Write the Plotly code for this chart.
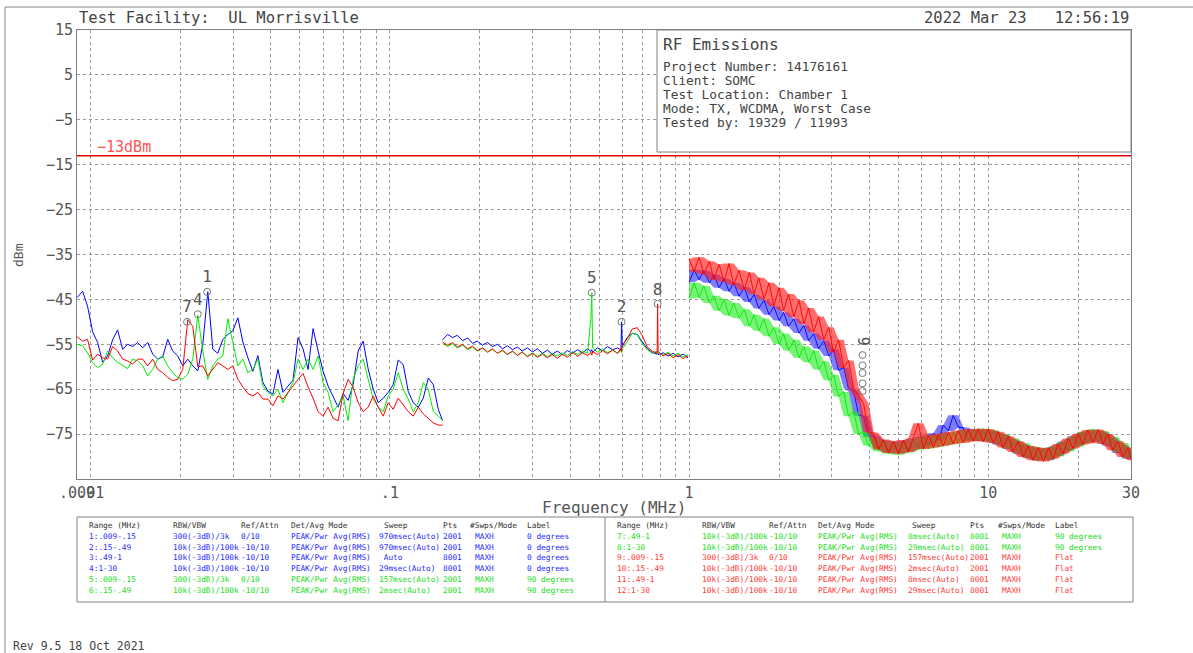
import math
import plotly.graph_objects as go

# ---------------- data ----------------
seg1_freq = [0.009, 0.00940, 0.00976, 0.01015, 0.01055, 0.01096, 0.01139, 0.01184, 0.01230, 0.01279,
             0.01329, 0.01381, 0.01436, 0.01492, 0.01551, 0.01612, 0.01675, 0.01741, 0.01809, 0.01880,
             0.01954, 0.02031, 0.02111, 0.02194, 0.02280, 0.02370, 0.02463, 0.02560, 0.02660, 0.02765,
             0.02873, 0.02986, 0.03104, 0.03226, 0.03353, 0.03484, 0.03621, 0.03764, 0.03911, 0.04065,
             0.04225, 0.04394, 0.04567, 0.04746, 0.04933, 0.05127, 0.05328, 0.05538, 0.05755, 0.05981,
             0.06217, 0.06461, 0.06715, 0.06979, 0.07253, 0.07538, 0.07834, 0.08142, 0.08462, 0.08795,
             0.09141, 0.09500, 0.09873, 0.1026, 0.1066, 0.1108, 0.1152, 0.1197, 0.1244, 0.1293,
             0.1344, 0.1397, 0.1452, 0.1500]
blue1 = [-44.6, -43.2, -46.5, -52.2, -54.6, -59.0, -57.6, -54.0, -51.8, -56.1,
         -55.0, -55.5, -54.6, -55.8, -54.6, -57.2, -58.3, -57.8, -53.9, -56.5,
         -57.6, -59.8, -58.3, -59.8, -60.9, -55.0, -43.3, -56.1, -57.0, -53.9,
         -52.8, -52.0, -49.1, -54.5, -58.0, -61.0, -57.5, -63.5, -65.4, -66.1,
         -60.6, -65.7, -64.3, -63.0, -53.5, -56.0, -60.6, -51.5, -56.5, -61.0,
         -64.3, -66.5, -69.0, -66.0, -67.5, -64.0, -56.5, -54.3, -60.5, -65.0,
         -68.0, -67.0, -65.7, -64.0, -58.5, -59.5, -65.5, -68.0, -69.0, -67.0,
         -62.5, -64.0, -69.5, -72.0]
green1 = [-55.0, -55.3, -56.9, -59.1, -60.2, -59.5, -56.5, -58.0, -59.0, -59.8,
          -60.4, -58.3, -58.7, -59.8, -62.0, -60.6, -58.3, -57.6, -59.8, -61.3,
          -62.4, -62.8, -61.7, -58.3, -48.5, -56.5, -62.8, -59.8, -58.3, -57.6,
          -49.3, -54.6, -59.8, -58.3, -61.3, -60.6, -58.3, -64.3, -65.7, -66.5,
          -65.0, -68.0, -65.7, -63.5, -58.3, -60.6, -58.3, -60.6, -57.6, -63.5,
          -65.7, -70.0, -68.5, -66.5, -72.0, -62.8, -59.8, -58.3, -62.8, -67.2,
          -69.0, -70.0, -66.5, -65.0, -61.3, -65.0, -67.2, -70.0, -68.0, -63.5,
          -65.0, -70.0, -71.0, -72.0]
red1 = [-53.3, -54.3, -53.9, -58.5, -57.2, -58.0, -58.3, -55.5, -56.5, -58.3,
        -58.7, -59.4, -58.3, -58.3, -59.8, -58.3, -60.6, -61.3, -62.4, -63.1,
        -62.8, -60.6, -49.5, -51.0, -60.0, -59.8, -62.0, -60.6, -59.1, -59.8,
        -60.6, -59.8, -62.8, -64.5, -66.0, -66.5, -65.7, -67.2, -67.2, -68.7,
        -66.5, -67.2, -65.7, -64.3, -62.8, -61.5, -64.5, -67.0, -70.0, -71.0,
        -69.0, -71.5, -72.0, -66.0, -62.8, -64.5, -68.0, -70.0, -69.0, -66.5,
        -69.0, -71.0, -68.0, -69.5, -67.0, -68.5, -70.0, -71.0, -69.0, -70.5,
        -71.5, -72.5, -73.0, -73.0]

seg2_freq = [0.150, 0.156, 0.162, 0.168, 0.175, 0.182, 0.189, 0.196, 0.204, 0.212,
             0.220, 0.229, 0.238, 0.247, 0.257, 0.267, 0.277, 0.288, 0.300, 0.311,
             0.324, 0.336, 0.349, 0.363, 0.377, 0.392, 0.408, 0.424, 0.440, 0.458,
             0.470, 0.473, 0.476, 0.494, 0.514, 0.534, 0.555, 0.577, 0.592, 0.595,
             0.598, 0.621, 0.646, 0.671, 0.697, 0.725, 0.753, 0.782, 0.785, 0.788,
             0.819, 0.851, 0.885, 0.919, 0.955, 0.993]
blue2 = [-54.0, -52.8, -53.5, -53.0, -54.2, -53.6, -54.8, -54.3, -55.2, -54.6,
         -55.5, -55.0, -56.0, -55.3, -56.2, -55.6, -56.5, -55.8, -56.7, -56.0,
         -57.0, -56.3, -57.2, -56.5, -57.3, -56.4, -57.0, -56.2, -56.9, -56.0,
         -56.6, -56.2, -56.8, -55.8, -56.4, -55.5, -56.2, -55.8, -56.3, -50.0,
         -55.5, -53.5, -52.6, -52.8, -54.4, -56.0, -56.8, -57.2, -56.6, -57.3,
         -56.9, -57.6, -57.0, -57.8, -57.2, -58.0]
green2 = [-54.8, -55.5, -54.9, -55.8, -55.2, -56.2, -55.6, -56.5, -55.9, -56.8,
          -56.1, -57.0, -56.4, -57.2, -56.6, -57.4, -56.8, -57.6, -56.9, -57.7,
          -57.0, -57.8, -57.1, -57.6, -56.9, -57.5, -56.6, -57.3, -56.5, -57.0,
          -49.0, -43.5, -55.8, -56.8, -56.0, -56.9, -56.2, -57.0, -56.4, -56.9,
          -56.0, -54.5, -52.5, -52.9, -54.8, -56.2, -57.0, -56.5, -57.2, -56.7,
          -57.4, -56.8, -57.6, -57.0, -57.8, -57.3]
red2 = [-54.5, -55.2, -54.6, -55.6, -55.0, -56.0, -55.4, -56.4, -55.8, -56.7,
        -56.0, -57.0, -56.3, -57.3, -56.5, -57.5, -56.7, -57.8, -57.0, -57.9,
        -57.2, -58.0, -57.3, -58.1, -57.2, -57.9, -56.8, -57.7, -56.9, -57.5,
        -56.8, -57.4, -56.6, -57.3, -56.4, -57.1, -56.3, -57.0, -55.9, -56.6,
        -55.2, -53.8, -51.6, -51.3, -53.0, -55.6, -56.5, -57.0, -46.0, -56.6,
        -57.6, -57.0, -58.0, -57.3, -58.2, -57.6]

seg3_freq = [1.00, 1.04, 1.08, 1.12, 1.17, 1.21, 1.26, 1.31, 1.36, 1.41,
             1.47, 1.53, 1.59, 1.65, 1.71, 1.78, 1.85, 1.92, 2.00, 2.07,
             2.15, 2.24, 2.33, 2.42, 2.51, 2.61, 2.71, 2.82, 2.93, 3.04,
             3.16, 3.29, 3.41, 3.55, 3.69, 3.83, 3.98, 4.14, 4.30, 4.47,
             4.64, 4.82, 5.01, 5.21, 5.41, 5.62, 5.84, 6.07, 6.31, 6.56,
             6.81, 7.08, 7.36, 7.64, 7.94, 8.25, 8.58, 8.91, 9.26, 9.62,
             10.0, 10.4, 10.8, 11.2, 11.7, 12.1, 12.6, 13.1, 13.6, 14.1,
             14.7, 15.3, 15.9, 16.5, 17.1, 17.8, 18.5, 19.2, 20.0, 20.7,
             21.5, 22.4, 23.3, 24.2, 25.1, 26.1, 27.1, 28.2, 29.3, 30.0]
blue3 = [-41.2, -38.4, -40.6, -38.6, -41.3, -39.5, -42.4, -40.4, -43.2, -41.3,
         -44.3, -42.3, -45.6, -43.9, -47.0, -45.2, -48.4, -46.6, -49.7, -47.9,
         -51.0, -49.3, -52.5, -50.8, -54.2, -52.6, -56.0, -54.2, -57.6, -56.1,
         -60.8, -60.2, -64.8, -65.5, -70.8, -71.0, -75.6, -75.3, -78.4, -76.4,
         -79.0, -76.8, -79.2, -76.5, -78.7, -76.0, -78.2, -75.4, -77.5, -74.8,
         -76.4, -73.0, -74.3, -70.8, -73.4, -73.6, -76.4, -74.0, -76.5, -74.0,
         -76.6, -74.3, -77.3, -75.2, -78.3, -76.2, -79.3, -77.3, -80.3, -78.0,
         -80.8, -78.3, -80.8, -77.8, -79.9, -76.7, -78.6, -75.5, -77.5, -74.6,
         -76.8, -74.2, -76.7, -74.5, -77.6, -75.9, -79.2, -77.4, -80.5, -78.4]
green3 = [-44.8, -41.3, -44.6, -42.0, -45.8, -44.2, -47.5, -45.0, -48.6, -45.8,
          -49.2, -47.2, -51.0, -48.4, -52.0, -49.3, -53.2, -51.2, -55.0, -52.6,
          -56.4, -54.0, -58.0, -55.5, -59.0, -56.4, -60.6, -58.8, -63.0, -61.8,
          -66.6, -65.6, -71.0, -70.0, -75.0, -74.5, -77.6, -76.0, -78.8, -76.6,
          -79.4, -77.0, -79.6, -76.8, -79.1, -76.1, -78.5, -75.6, -78.2, -75.3,
          -77.8, -75.0, -77.4, -74.6, -77.0, -74.2, -76.6, -74.0, -76.4, -73.8,
          -76.6, -74.2, -77.1, -75.0, -78.2, -76.0, -79.2, -77.0, -80.2, -77.8,
          -80.9, -78.2, -80.7, -77.8, -80.0, -76.8, -78.9, -75.6, -77.8, -74.5,
          -76.9, -73.9, -76.5, -74.3, -77.3, -75.6, -79.0, -77.0, -80.3, -78.5]
red3 = [-36.0, -38.8, -35.6, -39.4, -36.5, -40.6, -37.2, -41.0, -37.0, -41.8,
        -38.5, -42.9, -39.0, -43.8, -40.2, -45.0, -41.3, -46.5, -42.4, -47.6,
        -43.8, -48.9, -45.2, -50.5, -46.9, -52.3, -48.8, -54.0, -51.2, -56.8,
        -54.0, -60.2, -58.6, -64.8, -66.5, -68.2, -74.5, -74.8, -78.4, -76.2,
        -79.2, -76.6, -79.4, -76.3, -79.0, -75.8, -72.6, -78.3, -75.3, -78.0,
        -75.0, -77.6, -74.6, -77.2, -74.2, -76.9, -73.9, -76.6, -73.8, -76.7,
        -73.9, -77.0, -74.5, -78.0, -75.5, -79.0, -76.6, -80.1, -77.6, -80.8,
        -78.0, -81.1, -78.1, -80.5, -77.2, -79.4, -76.0, -78.2, -74.9, -77.3,
        -74.1, -76.9, -74.0, -77.2, -75.0, -78.6, -76.6, -80.1, -78.0, -80.8]

limit_level = -13
limit_label = "\u221213dBm"

marker_labels = ["1", "2", "4", "5", "7", "8"]
marker_freq = [0.0245, 0.595, 0.0228, 0.473, 0.0210, 0.785]
marker_level = [-43.3, -50.0, -48.3, -43.5, -50.0, -46.0]
cluster_freq = [3.80, 3.80, 3.80, 3.80, 3.80]
cluster_level = [-57.4, -59.7, -61.4, -63.7, -65.4]
cluster_label = "9"
cluster_label_level = -54.3

y_ticks = [15, 5, -5, -15, -25, -35, -45, -55, -65, -75]
x_grid = [0.009, 0.01, 0.02, 0.03, 0.04, 0.05, 0.06, 0.07, 0.08, 0.09,
          0.1, 0.2, 0.3, 0.4, 0.5, 0.6, 0.7, 0.8, 0.9,
          1, 2, 3, 4, 5, 6, 7, 8, 9, 10, 20, 30]
x_labels = {0.009: ".009", 0.01: ".01", 0.1: ".1", 1: "1", 10: "10", 30: "30"}

tbl_headers = ["Range (MHz)", "RBW/VBW", "Ref/Attn", "Det/Avg Mode", "Sweep", "Pts", "#Swps/Mode", "Label"]
tbl_range = ["1:.009-.15", "2:.15-.49", "3:.49-1", "4:1-30", "5:.009-.15", "6:.15-.49",
             "7:.49-1", "8:1-30", "9:.009-.15", "10:.15-.49", "11:.49-1", "12:1-30"]
tbl_rbw = ["300(-3dB)/3k", "10k(-3dB)/100k", "10k(-3dB)/100k", "10k(-3dB)/100k", "300(-3dB)/3k", "10k(-3dB)/100k",
           "10k(-3dB)/100k", "10k(-3dB)/100k", "300(-3dB)/3k", "10k(-3dB)/100k", "10k(-3dB)/100k", "10k(-3dB)/100k"]
tbl_ref = ["0/10", "-10/10", "-10/10", "-10/10", "0/10", "-10/10",
           "-10/10", "-10/10", "0/10", "-10/10", "-10/10", "-10/10"]
tbl_det = ["PEAK/Pwr Avg(RMS)"] * 12
tbl_sweep = ["970msec(Auto)", "970msec(Auto)", " Auto", "29msec(Auto)", "157msec(Auto)", "2msec(Auto)",
             "8msec(Auto)", "29msec(Auto)", "157msec(Auto)", "2msec(Auto)", "8msec(Auto)", "29msec(Auto)"]
tbl_pts = ["2001", "2001", "8001", "8001", "2001", "2001", "8001", "8001", "2001", "2001", "8001", "8001"]
tbl_swps = ["MAXH"] * 12
tbl_label = ["0 degrees", "0 degrees", "0 degrees", "0 degrees", "90 degrees", "90 degrees",
             "90 degrees", "90 degrees", "Flat", "Flat", "Flat", "Flat"]

# ---------------- styling ----------------
W, H = 1193, 653
L, R, T, B = 77, 1131, 30, 479
MONO = "DejaVu Sans Mono"
BLUE, GREEN, RED = "#0000ff", "#00ee00", "#ff0000"
FILLS = {BLUE: "rgba(40,40,255,0.60)", GREEN: "rgba(30,235,30,0.60)", RED: "rgba(255,30,30,0.65)"}
TXT_BLUE, TXT_GREEN, TXT_RED = "#2a2aff", "#22dd22", "#ff3a3a"
GREY_TXT = "#555555"


def px(x):
    return (x - L) / (R - L)


def py(y):
    return (B - y) / (B - T)


annotations = []


def ann(x, y, text, size, color, anchor="left", angle=0, yanchor="middle"):
    annotations.append(dict(x=px(x), y=py(y), xref="paper", yref="paper", text=text,
                            showarrow=False, xanchor=anchor, yanchor=yanchor, textangle=angle,
                            font=dict(family=MONO, size=size, color=color)))


def envelope(f, v):
    """Noise band of a dense sweep: local max / min of the read values."""
    up = [max(v[max(i - 1, 0):i + 2]) for i in range(len(v))]
    lo = [min(v[max(i - 1, 0):i + 2]) for i in range(len(v))]
    return list(f) + list(f)[::-1], up + lo[::-1]


fig = go.Figure()

for f, b, g, r in [(seg1_freq, blue1, green1, red1), (seg2_freq, blue2, green2, red2)]:
    for vals, col in ((b, BLUE), (g, GREEN), (r, RED)):
        fig.add_trace(go.Scatter(x=f, y=vals, mode="lines", line=dict(color=col, width=1),
                                 showlegend=False, hoverinfo="skip"))

for vals, col in ((blue3, BLUE), (green3, GREEN), (red3, RED)):
    ex, ey = envelope(seg3_freq, vals)
    fig.add_trace(go.Scatter(x=ex, y=ey, mode="lines", fill="toself", fillcolor=FILLS[col],
                             line=dict(width=0), showlegend=False, hoverinfo="skip"))
    fig.add_trace(go.Scatter(x=seg3_freq, y=vals, mode="lines", line=dict(color=col, width=0.9),
                             showlegend=False, hoverinfo="skip"))

fig.add_trace(go.Scatter(x=[x_grid[0], x_grid[-1]], y=[limit_level, limit_level], mode="lines",
                         line=dict(color="#e00000", width=1.5), showlegend=False, hoverinfo="skip"))

fig.add_trace(go.Scatter(x=marker_freq, y=marker_level, mode="markers+text", text=marker_labels,
                         textposition="top center",
                         textfont=dict(family=MONO, size=16, color=GREY_TXT),
                         marker=dict(symbol="circle-open", size=7, color="#777777", line=dict(width=1)),
                         showlegend=False, hoverinfo="skip"))
fig.add_trace(go.Scatter(x=cluster_freq, y=cluster_level, mode="markers",
                         marker=dict(symbol="circle-open", size=7, color="#777777", line=dict(width=1)),
                         showlegend=False, hoverinfo="skip"))
annotations.append(dict(x=math.log10(cluster_freq[0]), y=cluster_label_level, xref="x", yref="y",
                        text=cluster_label, showarrow=False, textangle=90,
                        font=dict(family=MONO, size=15, color=GREY_TXT)))

# header texts
NB = "\u00a0"
ann(77, 18, "Test Facility:" + NB * 2 + "UL Morrisville", 15.5, "#444444")
ann(1131, 18, "2022 Mar 23" + NB * 3 + "12:56:19", 15.5, "#444444", anchor="right")
ann(95, 147, limit_label, 15, "#ff5555")

# info box
ann(661, 44, "RF Emissions", 16, "#444444")
info_lines = ["Project Number: 14176161", "Client: SOMC", "Test Location: Chamber 1",
              "Mode: TX, WCDMA, Worst Case", "Tested by: 19329 / 11993"]
for i, line in enumerate(info_lines):
    ann(661, 66 + i * 14.2, line, 12.8, "#444444")

# axis titles
ann(615, 507, "Frequency (MHz)", 16, GREY_TXT, anchor="center")
ann(18, 255, "dBm", 13, GREY_TXT, anchor="center", angle=-90)
ann(11, 646, "Rev 9.5 18 Oct 2021", 11.5, "#444444")

# table
row_y = [536.5, 547, 557.5, 568, 579, 590]
head_y = 525
left_cols = [87, 171, 239, 289, 377, 441, 473, 525]
left_head = [87, 171, 239, 289, 382, 441, 468, 525]
right_cols = [615, 700, 767, 816, 906, 968, 1000, 1053]
right_head = [615, 700, 767, 816, 910, 968, 996, 1053]
row_colors = [TXT_BLUE] * 4 + [TXT_GREEN] * 4 + [TXT_RED] * 4
TS = 7.8
for hx_list in (left_head, right_head):
    for hx, h in zip(hx_list, tbl_headers):
        ann(hx, head_y, h, TS, "#333333")
for i in range(12):
    cols = left_cols if i < 6 else right_cols
    yy = row_y[i % 6]
    vals = [tbl_range[i], tbl_rbw[i], tbl_ref[i], tbl_det[i], tbl_sweep[i].replace(" ", NB),
            tbl_pts[i], tbl_swps[i], tbl_label[i]]
    for cx, v in zip(cols, vals):
        ann(cx, yy, v, TS, row_colors[i])

shapes = [
    dict(type="rect", xref="paper", yref="paper", x0=px(657), x1=px(1131), y0=py(152), y1=py(30),
         line=dict(color="#808080", width=1), fillcolor="white", layer="above"),
    dict(type="line", xref="paper", yref="paper", x0=px(5), x1=px(1193), y0=py(7), y1=py(7),
         line=dict(color="#888888", width=1)),
    dict(type="line", xref="paper", yref="paper", x0=px(5), x1=px(5), y0=py(7), y1=py(653),
         line=dict(color="#888888", width=1)),
    dict(type="rect", xref="paper", yref="paper", x0=px(77), x1=px(1133), y0=py(602), y1=py(517),
         line=dict(color="#808080", width=1)),
    dict(type="line", xref="paper", yref="paper", x0=px(605), x1=px(605), y0=py(602), y1=py(517),
         line=dict(color="#808080", width=1)),
]

fig.update_layout(
    width=W, height=H, autosize=False,
    margin=dict(l=L, r=W - R, t=T, b=H - B, pad=0),
    paper_bgcolor="white", plot_bgcolor="white",
    showlegend=False,
    annotations=annotations,
    shapes=shapes,
    xaxis=dict(type="log", range=[math.log10(0.009), math.log10(30)],
               tickmode="array", tickvals=x_grid,
               ticktext=[x_labels.get(v, "") for v in x_grid],
               tickangle=0, ticks="", showgrid=True, gridcolor="#9a9a9a", griddash="dot", gridwidth=1,
               showline=True, linecolor="#808080", linewidth=1, mirror=True, zeroline=False,
               tickfont=dict(family=MONO, size=15, color=GREY_TXT)),
    yaxis=dict(range=[-85, 15], tickmode="array", tickvals=y_ticks,
               ticks="", showgrid=True, gridcolor="#9a9a9a", griddash="dot", gridwidth=1,
               showline=True, linecolor="#808080", linewidth=1, mirror=True, zeroline=False,
               tickfont=dict(family=MONO, size=15, color=GREY_TXT)),
)

fig.write_html("out.html", config={"displayModeBar": False},
               post_script="document.body.style.margin='0px';")
